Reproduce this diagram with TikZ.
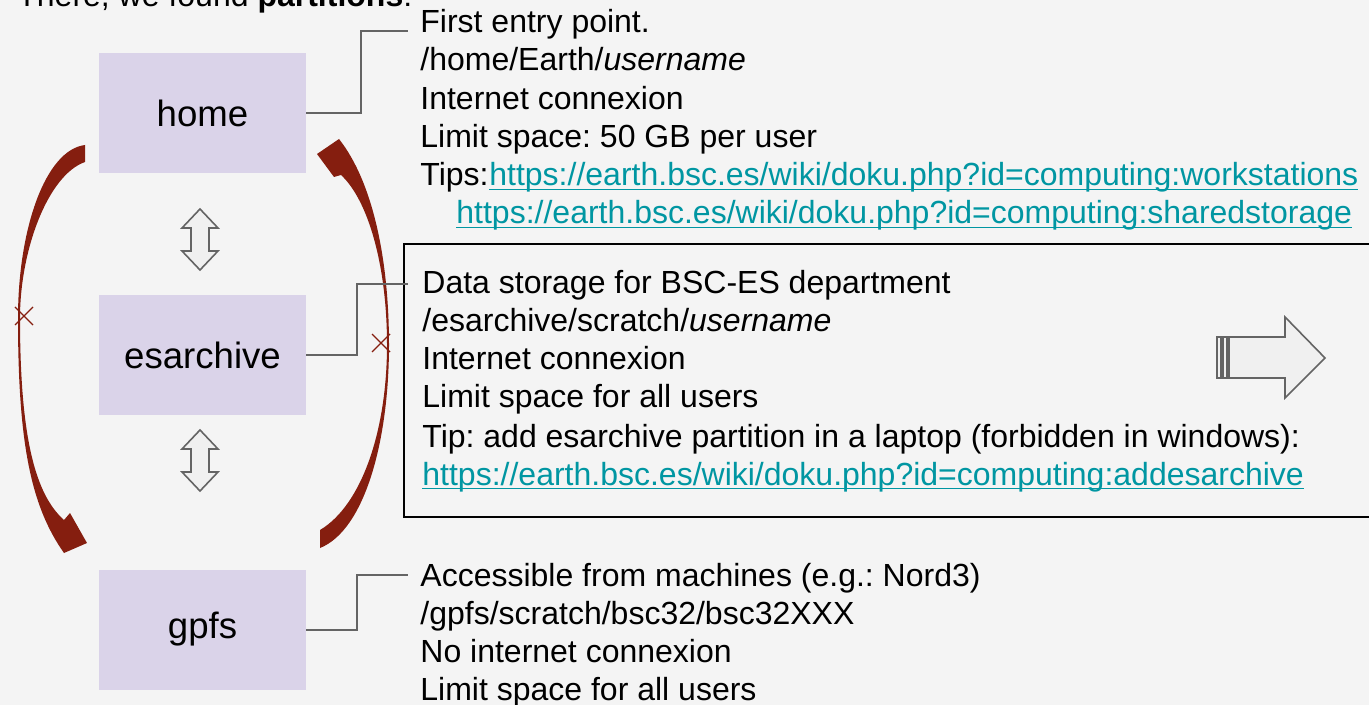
\documentclass[tikz,border=0pt]{standalone}
\usepackage{fontspec}
\setmainfont{Liberation Sans}
\usepackage{tikz}
\usetikzlibrary{positioning, calc}
\definecolor{partfill}{RGB}{218, 211, 233}
\definecolor{linkteal}{RGB}{0, 150, 162}
\definecolor{hopgray}{RGB}{100, 100, 100}
\definecolor{movered}{RGB}{133, 30, 15}
\definecolor{paper}{RGB}{244, 244, 244}
\definecolor{shapefill}{RGB}{240, 240, 240}
\frenchspacing

% underlined web address, rule close under the baseline
\newcommand\weblink[1]{\setbox0\hbox{#1}\rlap{\rule[-2.2pt]{\wd0}{0.9pt}}\box0}

\tikzset{
  part/.style={fill=partfill, inner sep=0pt, minimum width=103.5pt, minimum height=60pt,
    font=\fontsize{18.3}{22}\selectfont},
  info/.style={anchor=base west, inner sep=0pt, font=\fontsize{16}{19}\selectfont},
  link/.style={info, text=linkteal},
  hop/.style={draw=hopgray, line width=1pt},
  swap/.style={draw=hopgray, fill=shapefill, line width=0.8pt, line join=miter},
  blocked/.style={draw=movered, line width=0.7pt}
}

\begin{document}
\begin{tikzpicture}[x=0.5pt, y=-0.5pt]
  \useasboundingbox (0,0) rectangle (1369,705);
  \clip (0,0) rectangle (1369,705);
  \fill[paper] (0,0) rectangle (1369,705);

  % Heading, cut by the top edge
  \node[info] (title) at (17,7) {There, we found \textbf{partitions}:};

  % Partitions
  \node[part] (home) at (202.5,113) {home};
  \node[part] (esarchive) at (202.5,355) {esarchive};
  \node[part] (gpfs) at (202.5,629.5) {gpfs};

  % Swaps between partitions
  \draw[swap] (200,209) -- (218,228) -- (209,228) -- (209,251) -- (218,251) -- (200,270)
    -- (182,251) -- (191,251) -- (191,228) -- (182,228) -- cycle;
  \draw[swap] (200,430) -- (218,449) -- (209,449) -- (209,472) -- (218,472) -- (200,491)
    -- (182,472) -- (191,472) -- (191,449) -- (182,449) -- cycle;

  % Moves home -> gpfs (left) and gpfs -> home (right)
  \fill[movered] (85,145) .. controls (45,150) and (18,230) .. (18,318)
    .. controls (18,440) and (30,505) .. (64,553)
    -- (87,543) -- (70,513) -- (64,520)
    .. controls (36,495) and (20,440) .. (20,318)
    .. controls (20,250) and (48,175) .. (85,162) -- cycle;
  \fill[movered] (320,548) .. controls (365,530) and (389,440) .. (389,345)
    .. controls (389,260) and (373,182) .. (339,139)
    -- (317,154) -- (334,177) -- (341,175)
    .. controls (368,200) and (387,265) .. (387,345)
    .. controls (387,430) and (362,505) .. (320,530) -- cycle;

  % Crossed out
  \draw[blocked] (15,307) -- (33,325) (15,325) -- (33,307);
  \draw[blocked] (372,334) -- (390,352) (372,352) -- (390,334);

  % Home details
  \coordinate (homeTip) at (408,31);
  \draw[hop] (home.east) -- ++(55,0) |- (homeTip);
  \node[info] (home1) at (420,33) {First entry point.};
  \node[info] (home2) at (420,71) {/home/Earth/\textit{username}};
  \node[info] (home3) at (420,110) {Internet connexion};
  \node[info] (home4) at (420,148) {Limit space: 50 GB per user};
  \node[info] (home5) at (420,186) {Tips:};
  \node[link] (home5url) at (home5.base east) {\weblink{https://earth.bsc.es/wiki/doku.php?id=computing:workstations}};
  \node[link] (home6url) at (456,224) {\weblink{https://earth.bsc.es/wiki/doku.php?id=computing:sharedstorage}};

  % Esarchive details
  \draw[line width=1pt] (404,244) rectangle (1380,517);
  \coordinate (esarchiveTip) at (408,284);
  \draw[hop] (esarchive.east) -- ++(51,0) |- (esarchiveTip);
  \node[info] (es1) at (422,294) {Data storage for BSC-ES department};
  \node[info] (es2) at (422,332) {/esarchive/scratch/\textit{username}};
  \node[info] (es3) at (422,370) {Internet connexion};
  \node[info] (es4) at (422,408) {Limit space for all users};
  \node[info] (es5) at (422,447) {Tip: add esarchive partition in a laptop (forbidden in windows):};
  \node[link] (es6url) at (422,485) {\weblink{https://earth.bsc.es/wiki/doku.php?id=computing:addesarchive}};

  % Next
  \draw[swap] (1229,337) -- (1285,337) -- (1285,317) -- (1325,358) -- (1285,398)
    -- (1285,378) -- (1229,378) -- cycle;
  \draw[swap] (1217,337) rectangle (1221,378);
  \draw[swap] (1223,337) rectangle (1227,378);

  % Gpfs details
  \coordinate (gpfsTip) at (408,575);
  \draw[hop] (gpfs.east) -- ++(51,0) |- (gpfsTip);
  \node[info] (gpfs1) at (420,586) {Accessible from machines (e.g.: Nord3)};
  \node[info] (gpfs2) at (420,624) {/gpfs/scratch/bsc32/bsc32XXX};
  \node[info] (gpfs3) at (420,662) {No internet connexion};
  \node[info] (gpfs4) at (420,700) {Limit space for all users};
\end{tikzpicture}
\end{document}
